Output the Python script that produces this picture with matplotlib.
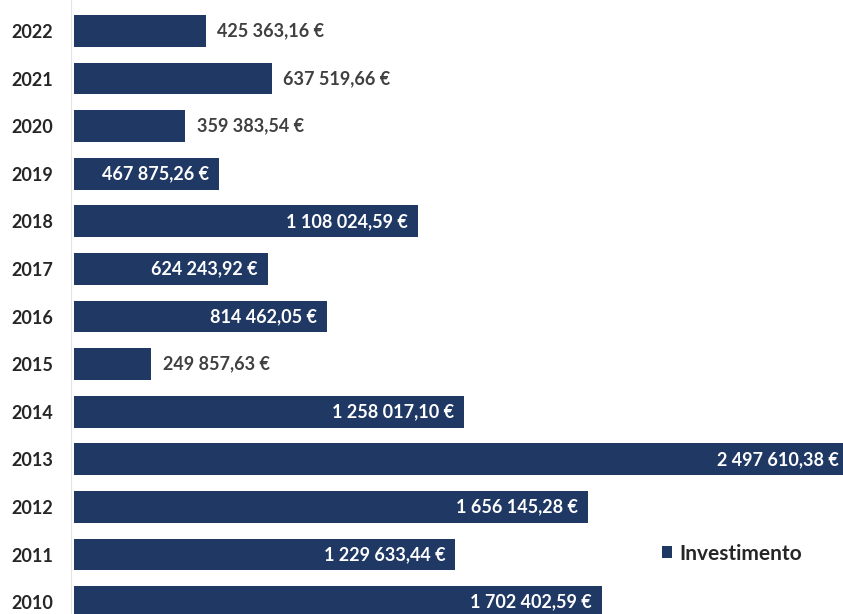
import matplotlib.pyplot as plt

years = ['2010', '2011', '2012', '2013', '2014', '2015', '2016',
         '2017', '2018', '2019', '2020', '2021', '2022']
invest = [1702402.59, 1229633.44, 1656145.28, 2497610.38, 1258017.10, 249857.63,
          814462.05, 624243.92, 1108024.59, 467875.26, 359383.54, 637519.66, 425363.16]
# which value labels sit inside the bar end
inside = [True, True, True, True, True, False, True, True, True, True, False, False, False]

navy = '#203864'
plt.rcParams['font.family'] = ['Lato', 'DejaVu Sans']
plt.rcParams['font.weight'] = 'bold'


def euro(v):
    s = '{:,.2f}'.format(v)
    s = s.replace(',', ' ').replace('.', ',')
    return s + ' €'


fig = plt.figure(figsize=(8.43, 6.14), dpi=100)
ax = fig.add_axes([74 / 843, 0, 1 - 74 / 843, 1])

pos = range(len(years))
bars = ax.barh(pos, invest, height=0.67, color=navy, label='Investimento')

for b, v, ins in zip(bars, invest, inside):
    y = b.get_y() + b.get_height() / 2
    if ins:
        ax.annotate(euro(v), (v, y), xytext=(-7, 0), textcoords='offset points',
                    ha='right', va='center', color='white', fontsize=13,
                    annotation_clip=False)
    else:
        ax.annotate(euro(v), (v, y), xytext=(8, 0), textcoords='offset points',
                    ha='left', va='center', color='#404040', fontsize=13,
                    annotation_clip=False)

ax.set_xlim(0, 2.48e6)
ax.set_ylim(-0.25, 12.65)
ax.set_yticks(list(pos))
ax.set_yticklabels(years)
ax.tick_params(axis='y', length=0, pad=13, labelsize=13, labelcolor='#262626')
ax.set_xticks([])
for side in ['top', 'right', 'bottom']:
    ax.spines[side].set_visible(False)
ax.spines['left'].set_color('#e4e4e4')
ax.spines['left'].set_position(('outward', 2))

leg = ax.legend(loc='center left', bbox_to_anchor=(0.74, 0.098), frameon=False,
                fontsize=15, handlelength=0.5, handleheight=0.5, handletextpad=0.35)
for t in leg.get_texts():
    t.set_color('#262626')

fig.savefig('out.png', dpi=100)
